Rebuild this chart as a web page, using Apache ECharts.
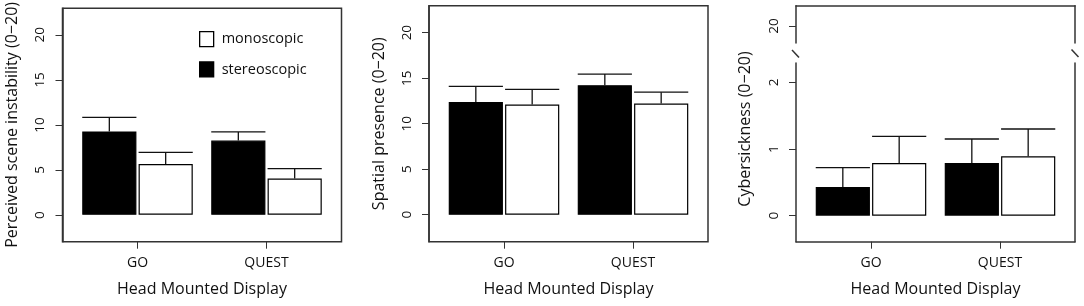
<!DOCTYPE html>
<html>
<head>
<meta charset="utf-8">
<script src="https://cdn.jsdelivr.net/npm/echarts@6/dist/echarts.min.js"></script>
<style>
html,body{margin:0;padding:0;background:#fff;}
#chart{width:1084px;height:306px;}
</style>
</head>
<body>
<div id="chart"></div>
<script>
// data: means and standard errors
var devices = ['GO', 'QUEST'];
var seriesNames = ['stereoscopic', 'monoscopic'];

var instabilityStereo = [9.15, 8.15];
var instabilityStereoSe = [1.55, 0.95];
var instabilityMono = [5.58, 3.98];
var instabilityMonoSe = [1.28, 1.09];

var presenceStereo = [12.39, 14.23];
var presenceStereoSe = [1.70, 1.22];
var presenceMono = [12.11, 12.22];
var presenceMonoSe = [1.65, 1.24];

var sicknessStereo = [0.43, 0.79];
var sicknessStereoSe = [0.29, 0.36];
var sicknessMono = [0.79, 0.89];
var sicknessMonoSe = [0.40, 0.41];

var ticks20 = [0, 5, 10, 15, 20];
var ticksLow = [0, 1, 2];
var ticksHigh = [20];

var FONT = 'Open Sans';
var INK = '#111';
var LINE = '#333';
var BAR_W = 0.42;   // fraction of category band
var BAR_GAP = 0.04; // fraction of bar width

var chart = echarts.init(document.getElementById('chart'));

function errData(mean, se) {
  return mean.map(function (m, i) { return [i, m, m + se[i]]; });
}

function errRender(side) {
  return function (params, api) {
    var band = api.size([1, 0])[0];
    var bw = band * BAR_W;
    var off = side * (bw / 2 + bw * BAR_GAP / 2);
    var base = api.coord([api.value(0), api.value(1)]);
    var top = api.coord([api.value(0), api.value(2)]);
    var cx = base[0] + off;
    var st = { stroke: INK, lineWidth: 1.3 };
    return {
      type: 'group',
      children: [
        { type: 'line', shape: { x1: cx, y1: base[1], x2: cx, y2: top[1] }, style: st },
        { type: 'line', shape: { x1: cx - bw / 2, y1: top[1], x2: cx + bw / 2, y2: top[1] }, style: st }
      ]
    };
  };
}

function panelSeries(axisIdx, stereo, stereoSe, mono, monoSe) {
  return [
    {
      name: 'stereoscopic', type: 'bar', xAxisIndex: axisIdx, yAxisIndex: axisIdx,
      data: stereo, barWidth: (BAR_W * 100) + '%', barGap: (BAR_GAP * 100) + '%',
      itemStyle: { color: '#000', borderColor: '#000', borderWidth: 1.2 },
      silent: true
    },
    {
      name: 'monoscopic', type: 'bar', xAxisIndex: axisIdx, yAxisIndex: axisIdx,
      data: mono, barWidth: (BAR_W * 100) + '%', barGap: (BAR_GAP * 100) + '%',
      itemStyle: { color: '#fff', borderColor: '#000', borderWidth: 1.2 },
      silent: true
    },
    {
      type: 'custom', xAxisIndex: axisIdx, yAxisIndex: axisIdx,
      data: errData(stereo, stereoSe), renderItem: errRender(-1),
      encode: { x: 0, y: [1, 2] }, z: 5, silent: true
    },
    {
      type: 'custom', xAxisIndex: axisIdx, yAxisIndex: axisIdx,
      data: errData(mono, monoSe), renderItem: errRender(1),
      encode: { x: 0, y: [1, 2] }, z: 5, silent: true
    }
  ];
}

// box axes (y ticks, labels, names)
function boxY(grid, min, max, vals, name) {
  var ax = {
    type: 'value', gridIndex: grid, min: min, max: max, position: 'left',
    axisLine: { show: true, onZero: false, lineStyle: { color: LINE, width: 1.5 } },
    axisTick: { show: true, inside: false, length: 7, customValues: vals, lineStyle: { color: LINE, width: 1 } },
    axisLabel: { show: true, customValues: vals, rotate: 90, margin: 15, color: INK, fontFamily: FONT, fontSize: 13.5 },
    splitLine: { show: false }
  };
  if (name) {
    ax.name = name;
    ax.nameLocation = 'middle';
    ax.nameGap = 42;
    ax.nameRotate = 90;
    ax.nameTextStyle = { color: INK, fontFamily: FONT, fontSize: 16 };
  }
  return ax;
}

function dataX(grid) {
  return {
    type: 'category', gridIndex: grid, data: devices, position: 'bottom',
    axisLine: { show: false, onZero: false },
    axisTick: { show: true, alignWithLabel: true, length: 7, lineStyle: { color: LINE, width: 1 } },
    axisLabel: { color: INK, fontFamily: FONT, fontSize: 14, margin: 14 },
    name: 'Head Mounted Display', nameLocation: 'middle', nameGap: 40,
    nameTextStyle: { color: INK, fontFamily: FONT, fontSize: 16 }
  };
}

function hiddenY(grid, min, max) {
  return { type: 'value', gridIndex: grid, min: min, max: max, show: false, splitLine: { show: false } };
}
function hiddenX(grid) {
  return { type: 'value', gridIndex: grid, min: 0, max: 1, show: false, splitLine: { show: false } };
}
function lineOnly(axis) {
  axis.show = true;
  axis.axisLine = { show: true, onZero: false, lineStyle: { color: LINE, width: 1.5 } };
  axis.axisTick = { show: false };
  axis.axisLabel = { show: false };
  return axis;
}

var BOX_TOP = 5.7, BOX_H = 236;
var MIN20 = -2.96, MAX20 = 22.96;
var LOW_MIN = -0.39, LOW_MAX = 2.29, HIGH_MIN = 19.745, HIGH_MAX = 20.304;
var boxStyle = { show: true, borderColor: LINE, borderWidth: 1.5, backgroundColor: 'transparent' };

var option = {
  animation: false,
  backgroundColor: '#fff',
  legend: {
    left: 199, top: 31, orient: 'vertical', padding: 0,
    itemWidth: 14, itemHeight: 15, itemGap: 14,
    icon: 'rect', selectedMode: false,
    textStyle: { color: INK, fontFamily: FONT, fontSize: 14.5, padding: [0, 0, 0, 3] },
    data: [
      { name: 'monoscopic', itemStyle: { color: '#fff', borderColor: '#000', borderWidth: 1.3 } },
      { name: 'stereoscopic', itemStyle: { color: '#000', borderColor: '#000', borderWidth: 1.3 } }
    ]
  },
  grid: [
    Object.assign({ left: 62.5, top: BOX_TOP, width: 279, height: BOX_H }, boxStyle),   // 0 box P1
    { left: 73, top: BOX_TOP, width: 258, height: BOX_H, show: false },                   // 1 data P1
    Object.assign({ left: 429, top: BOX_TOP, width: 279, height: BOX_H }, boxStyle),    // 2 box P2
    { left: 439.5, top: BOX_TOP, width: 258, height: BOX_H, show: false },                // 3 data P2
    { left: 796, top: 63, width: 279, height: 178.7, show: false },                       // 4 box P3 low
    { left: 806.5, top: 63, width: 258, height: 178.7, show: false },                     // 5 data P3
    { left: 796, top: BOX_TOP, width: 279, height: 43 - BOX_TOP, show: false }            // 6 box P3 high
  ],
  xAxis: [
    hiddenX(0),
    dataX(1),
    hiddenX(2),
    dataX(3),
    lineOnly(Object.assign(hiddenX(4), { position: 'bottom' })),
    dataX(5),
    lineOnly(Object.assign(hiddenX(6), { position: 'top' }))
  ],
  yAxis: [
    boxY(0, MIN20, MAX20, ticks20, 'Perceived scene instability (0\u221220)'),
    hiddenY(1, MIN20, MAX20),
    boxY(2, MIN20, MAX20, ticks20, 'Spatial presence (0\u221220)'),
    hiddenY(3, MIN20, MAX20),
    boxY(4, LOW_MIN, LOW_MAX, ticksLow, null),
    hiddenY(5, LOW_MIN, LOW_MAX),
    boxY(6, HIGH_MIN, HIGH_MAX, ticksHigh, null),
    lineOnly(Object.assign(hiddenY(4, LOW_MIN, LOW_MAX), { position: 'right' })),
    lineOnly(Object.assign(hiddenY(6, HIGH_MIN, HIGH_MAX), { position: 'right' }))
  ],
  graphic: [
    {
      type: 'text', x: 745, y: 129, rotation: Math.PI / 2,
      style: { text: 'Cybersickness (0\u221220)', fill: INK, font: '16px "Open Sans"', align: 'center', verticalAlign: 'middle' }
    },
    { type: 'line', shape: { x1: 792, y1: 50, x2: 799, y2: 57.5 }, style: { stroke: LINE, lineWidth: 1.5 } },
    { type: 'line', shape: { x1: 1071.5, y1: 49.5, x2: 1078.5, y2: 57 }, style: { stroke: LINE, lineWidth: 1.5 } }
  ],
  series: []
    .concat(panelSeries(1, instabilityStereo, instabilityStereoSe, instabilityMono, instabilityMonoSe))
    .concat(panelSeries(3, presenceStereo, presenceStereoSe, presenceMono, presenceMonoSe))
    .concat(panelSeries(5, sicknessStereo, sicknessStereoSe, sicknessMono, sicknessMonoSe))
};

chart.setOption(option);
</script>
</body>
</html>
